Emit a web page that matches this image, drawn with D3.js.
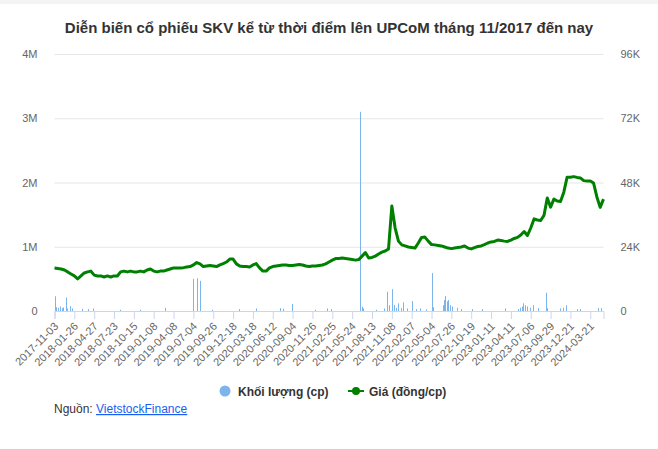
<!DOCTYPE html>
<html>
<head>
<meta charset="utf-8">
<script src="https://cdn.jsdelivr.net/npm/d3@7"></script>
<style>
  body { margin: 0; background: #fff; font-family: "Liberation Sans", Arial, sans-serif; }
  .axis text { fill: #666; font-size: 11px; font-family: "Liberation Sans", Arial, sans-serif; }
</style>
</head>
<body>
<div id="chart"></div>
<script>
// x tick labels (one every 60 trading days)
var xLabels = ['2017-11-03', '2018-01-26', '2018-04-27', '2018-07-23', '2018-10-15', '2019-01-08',
    '2019-04-08', '2019-07-04', '2019-09-26', '2019-12-18', '2020-03-18', '2020-06-12', '2020-09-04',
    '2020-11-26', '2021-02-25', '2021-05-24', '2021-08-13', '2021-11-08', '2022-02-07', '2022-05-04',
    '2022-07-26', '2022-10-19', '2023-01-11', '2023-04-11', '2023-07-06', '2023-09-29', '2023-12-21',
    '2024-03-21'];
var tickEvery = 60;
var lastDay = 1660;

// closing price (dong/cp), one value every 10 trading days
var priceStep = 10;
var price = [16100, 15900, 15700, 15300, 14600, 13800, 13100, 12000, 13100, 14200,
    14600, 14900, 13400, 13100, 13100, 12700, 13100, 12700, 13100, 13100,
    14600, 14900, 14600, 14900, 14600, 14600, 14900, 14600, 15300, 15700,
    14900, 14600, 14900, 14900, 15300, 15700, 16100, 16100, 16100, 16200,
    16400, 16600, 17200, 18100, 17600, 16600, 16800, 17000, 16800, 16600,
    17200, 17700, 18300, 19400, 19400, 17600, 16800, 16600, 16600, 16400,
    17200, 17700, 16100, 14900, 14900, 16100, 16600, 16800, 17000, 17200,
    17200, 17000, 17000, 17200, 17400, 17200, 16800, 16600, 16800, 16800,
    17000, 17200, 17600, 18300, 19000, 19600, 19600, 19800, 19600, 19400,
    19200, 19000, 19200, 20500, 21800, 19800, 20000, 20500, 21300, 22000,
    22400, 23200, 39200, 31000, 26100, 24700, 24300, 23900, 23700, 23500,
    25400, 27500, 27600, 26100, 24800, 24700, 24500, 24300, 23900, 23500,
    23300, 23500, 23700, 23900, 24300, 23500, 23200, 23700, 24100, 24300,
    24800, 25400, 25800, 26000, 26500, 26300, 26100, 26000, 26500, 27100,
    27500, 28400, 29700, 28200, 31000, 34400, 34000, 33800, 35700, 42200,
    38800, 41800, 41100, 40900, 44400, 50000, 50000, 50200, 49900, 49700,
    48700, 48600, 48600, 47800, 42600, 38700, 41800];

// traded volume (cp) on the days that show a visible bar
var volDay = [2, 6, 11, 17, 23, 27, 34, 38, 47, 53, 83, 101, 116, 198, 259, 334,
    418, 432, 441, 476, 559, 609, 682, 691, 717, 788, 824, 836,
    924, 929, 933, 972, 996, 1005, 1011, 1020, 1027, 1033, 1040, 1048, 1055, 1066,
    1080, 1093, 1105, 1123, 1141, 1145, 1175, 1178, 1181, 1186, 1191, 1196, 1201,
    1216, 1229, 1262, 1292, 1362, 1402, 1408, 1414, 1418, 1423, 1429, 1438, 1448,
    1462, 1486, 1489, 1529, 1539, 1546, 1580, 1589, 1644, 1653];
var volume = [230000, 60000, 50000, 70000, 45000, 55000, 210000, 40000, 75000, 40000, 35000, 30000, 40000, 20000, 20000, 50000,
    500000, 510000, 470000, 20000, 30000, 40000, 45000, 35000, 110000, 20000, 40000, 30000,
    3100000, 65000, 40000, 20000, 40000, 300000, 90000, 340000, 95000, 50000, 120000, 45000, 135000, 40000,
    155000, 30000, 40000, 25000, 590000, 60000, 90000, 170000, 235000, 150000, 170000, 90000, 70000,
    50000, 30000, 30000, 30000, 40000, 30000, 50000, 70000, 120000, 90000, 70000, 50000, 90000,
    45000, 285000, 45000, 40000, 50000, 90000, 30000, 30000, 45000, 45000];

var volTicks = [0, 1000000, 2000000, 3000000, 4000000];
var volTickLabels = ['0', '1M', '2M', '3M', '4M'];
var priceTicks = [0, 24000, 48000, 72000, 96000];
var priceTickLabels = ['0', '24K', '48K', '72K', '96K'];

var width = 658, height = 449;
var margin = { top: 54, right: 54.5, bottom: 138, left: 54.5 };
var plotH = height - margin.top - margin.bottom;

var svg = d3.select('#chart').append('svg')
    .attr('width', width)
    .attr('height', height);

svg.append('rect')
    .attr('width', width).attr('height', 4)
    .attr('fill', '#f4f4f4');

var xScale = d3.scaleLinear()
    .domain([0, lastDay])
    .range([margin.left, width - margin.right]);

var yVol = d3.scaleLinear()
    .domain([0, 4000000])
    .range([margin.top + plotH, margin.top]);

var yPrice = d3.scaleLinear()
    .domain([0, 96000])
    .range([margin.top + plotH, margin.top]);

// grid
var grid = svg.append('g')
    .attr('transform', 'translate(' + margin.left + ',0)')
    .call(d3.axisRight(yVol).tickValues(volTicks).tickSize(width - margin.left - margin.right).tickFormat(''));
grid.select('.domain').remove();
grid.selectAll('line').attr('stroke', '#e6e6e6');

// left axis (volume)
var leftAxis = svg.append('g')
    .attr('class', 'axis')
    .attr('transform', 'translate(' + (margin.left - 14) + ',0)')
    .call(d3.axisLeft(yVol).tickValues(volTicks).tickSize(0)
        .tickFormat(function(d, i) { return volTickLabels[i]; }));
leftAxis.select('.domain').remove();

// right axis (price)
var rightAxis = svg.append('g')
    .attr('class', 'axis')
    .attr('transform', 'translate(' + (width - margin.right + 14) + ',0)')
    .call(d3.axisRight(yPrice).tickValues(priceTicks).tickSize(0)
        .tickFormat(function(d, i) { return priceTickLabels[i]; }));
rightAxis.select('.domain').remove();

// volume bars
svg.append('g').selectAll('rect')
    .data(volume)
    .enter().append('rect')
        .attr('x', function(d, i) { return Math.round(xScale(volDay[i])); })
        .attr('width', 1)
        .attr('y', function(d) { return yVol(d); })
        .attr('height', function(d) { return yVol(0) - yVol(d); })
        .attr('fill', '#7cb5ec');

// x axis
var xAxis = svg.append('g')
    .attr('class', 'axis')
    .attr('transform', 'translate(0,' + (margin.top + plotH) + ')')
    .call(d3.axisBottom(xScale)
        .tickValues(d3.range(0, xLabels.length * tickEvery, tickEvery))
        .tickSize(8)
        .tickFormat(function(d, i) { return xLabels[i]; }));
xAxis.select('.domain').attr('stroke', '#ccd6eb');
xAxis.selectAll('line').attr('stroke', '#ccd6eb');
xAxis.selectAll('text')
    .attr('text-anchor', 'end')
    .attr('dy', null)
    .attr('y', 0)
    .attr('transform', 'translate(4,16) rotate(-45)');

// price line
var line = d3.line()
    .x(function(d, i) { return xScale(i * priceStep); })
    .y(function(d) { return yPrice(d); });

svg.append('path')
    .datum(price)
    .attr('d', line)
    .attr('fill', 'none')
    .attr('stroke', '#008000')
    .attr('stroke-width', 3)
    .attr('stroke-linejoin', 'round');

// title
svg.append('text')
    .attr('x', width / 2)
    .attr('y', 33)
    .attr('text-anchor', 'middle')
    .style('font-size', '15px')
    .style('font-weight', 'bold')
    .style('fill', '#333')
    .text('Diễn biến cổ phiếu SKV kể từ thời điểm lên UPCoM tháng 11/2017 đến nay');

// legend
var legend = svg.append('g').style('font-size', '12px').style('font-weight', 'bold').style('fill', '#333');
legend.append('circle').attr('cx', 225).attr('cy', 391).attr('r', 5.5).attr('fill', '#7cb5ec');
legend.append('text').attr('x', 238).attr('y', 395.5).text('Khối lượng (cp)');
legend.append('line').attr('x1', 348).attr('x2', 364).attr('y1', 391).attr('y2', 391)
    .attr('stroke', '#008000').attr('stroke-width', 2);
legend.append('circle').attr('cx', 356).attr('cy', 391).attr('r', 4).attr('fill', '#008000');
legend.append('text').attr('x', 369).attr('y', 395.5).text('Giá (đồng/cp)');

// source
var src = svg.append('text')
    .attr('x', 54)
    .attr('y', 413)
    .style('font-size', '12px')
    .style('fill', '#333');
src.append('tspan').text('Nguồn: ');
src.append('tspan').style('fill', '#1a5ef0').style('text-decoration', 'underline').text('VietstockFinance');
</script>
</body>
</html>
